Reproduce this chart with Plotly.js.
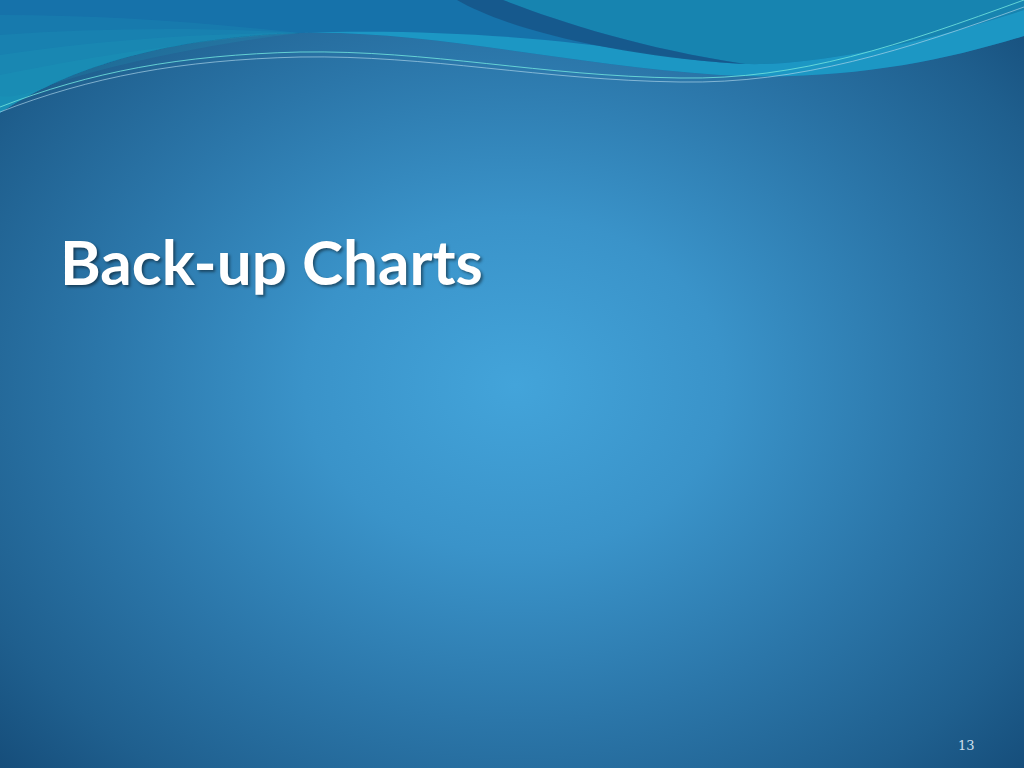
<!DOCTYPE html>
<html>
<head>
<meta charset="utf-8">
<script src="https://cdn.plot.ly/plotly-3.0.1.min.js"></script>
<style>
  html, body { margin: 0; padding: 0; }
  body {
    width: 1024px; height: 768px; overflow: hidden;
    background: radial-gradient(ellipse 700px 560px at 515px 385px,
      #43a4da 0%, #3a93c9 30%, #2b76a9 60%, #1f5f8e 85%, #164e7b 100%);
  }
  #slide { width: 1024px; height: 768px; }
</style>
</head>
<body>
<div id="slide"></div>
<script>
// slide texts
const titleText = 'Back-up Charts';
const pageNumber = '13';

// wave decoration outlines (slide pixels, y down)
const waveEdge = 'M0,113 C50,80 140,38 300,33 C430,30 560,64 720,75 C840,82 940,62 1024,36';
const waveTop = waveEdge + ' L1024,0 L0,0 Z';
const tealLayers = [
  'M0,113 C50,80 140,38 300,33 C200,22 100,15 0,15 Z',
  'M0,113 C50,80 140,38 300,33 C200,27 100,28 0,35 Z',
  'M0,113 C50,80 140,38 300,33 C200,33 100,40 0,55 Z',
  'M0,113 C50,80 140,38 300,33 C200,40 100,55 0,75 Z',
  'M0,113 C50,80 140,38 300,33 C200,45 110,65 50,85 C25,95 10,98 0,96 Z'
];
const streak = 'M457,0 C500,25 600,55 745,64 C640,48 560,22 503,0 Z';
const topRight = 'M503,0 C560,22 640,48 745,64 C800,66 900,50 1024,10 L1024,0 Z';
const cyanBand = 'M300,33 C420,28 560,38 640,52 C690,60 720,63 745,64 C800,66 900,50 1024,10 ' +
                 'L1024,36 C940,62 840,82 720,75 C560,64 430,30 300,33 Z';
const lineA = 'M0,107 C90,72 180,55 300,52 C430,50 540,76 680,78 C800,80 900,45 1024,0';
const lineB = 'M0,112 C90,77 180,60 300,57 C430,55 540,80 680,82 C800,84 905,50 1024,7';

const shapes = [
  { type: 'path', path: waveTop, fillcolor: '#1672aa', line: { width: 0 }, layer: 'below' }
];
tealLayers.forEach(p => {
  shapes.push({ type: 'path', path: p, fillcolor: 'rgba(30,165,195,0.16)', line: { width: 0 }, layer: 'below' });
});
shapes.push(
  { type: 'path', path: topRight, fillcolor: '#1784b0', line: { width: 0 }, layer: 'below' },
  { type: 'path', path: cyanBand, fillcolor: 'rgba(30,160,202,0.8)', line: { width: 0 }, layer: 'below' },
  { type: 'path', path: streak, fillcolor: 'rgba(22,86,138,0.9)', line: { width: 0 }, layer: 'below' },
  { type: 'path', path: lineA, line: { color: 'rgba(110,225,220,0.85)', width: 1 }, layer: 'below' },
  { type: 'path', path: lineB, line: { color: 'rgba(175,215,235,0.65)', width: 1 }, layer: 'below' }
);

const layout = {
  width: 1024,
  height: 768,
  margin: { l: 0, r: 0, t: 0, b: 0 },
  paper_bgcolor: 'rgba(0,0,0,0)',
  plot_bgcolor: 'rgba(0,0,0,0)',
  showlegend: false,
  xaxis: { range: [0, 1024], visible: false, fixedrange: true },
  yaxis: { range: [768, 0], visible: false, fixedrange: true },
  shapes: shapes,
  annotations: [
    {
      text: '<b>' + titleText + '</b>',
      x: 58, y: 261, xref: 'x', yref: 'y',
      xanchor: 'left', yanchor: 'middle', showarrow: false,
      font: { family: 'Lato, "Open Sans", sans-serif', size: 62, color: '#ffffff',
              shadow: '2px 2px 3px rgba(0,0,0,0.45)' }
    },
    {
      text: pageNumber,
      x: 966, y: 745, xref: 'x', yref: 'y',
      xanchor: 'center', yanchor: 'middle', showarrow: false,
      font: { family: '"DejaVu Serif", serif', size: 13, color: '#cfe0ee' }
    }
  ]
};

Plotly.newPlot('slide', [], layout, { staticPlot: true, displayModeBar: false });
</script>
</body>
</html>
